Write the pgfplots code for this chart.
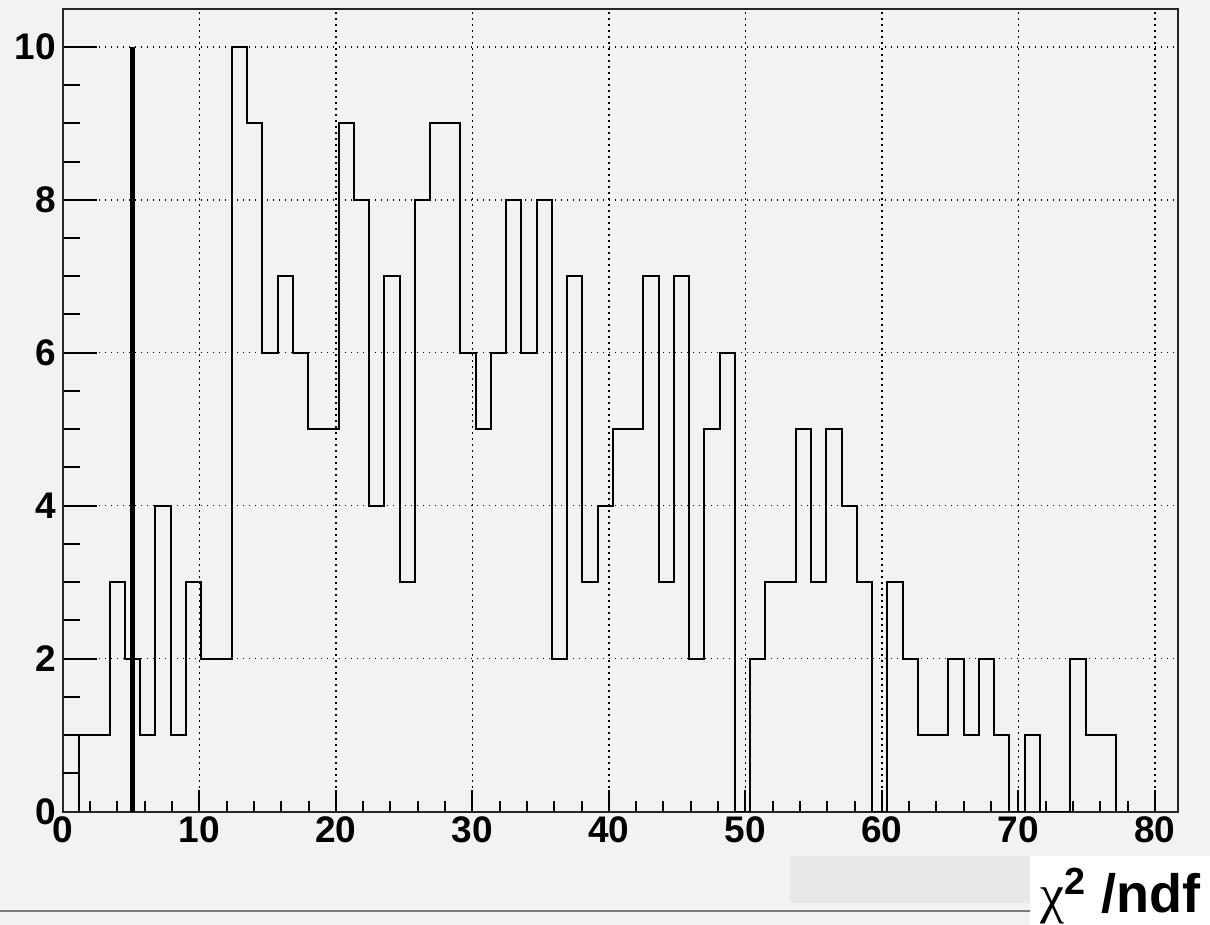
\documentclass[border=0pt]{standalone}
\usepackage{pgfplots}
\pgfplotsset{compat=1.18}
\usepackage{fontspec}
\setmainfont{Liberation Sans}
\newfontfamily\greekfont{Liberation Serif}

\definecolor{canvas}{HTML}{F2F2F2}
\definecolor{statbox}{HTML}{E8E8E8}
\definecolor{rulegray}{HTML}{7A7A7A}

\begin{document}
\begin{tikzpicture}
% canvas: 605pt x 462.5pt
\fill[canvas] (0,0) rectangle (605pt,462.5pt);
\fill[statbox] (395pt,10.85pt) rectangle (515pt,34.65pt);
\fill[white] (515pt,0pt) rectangle (605pt,34.65pt);
\draw[rulegray, line width=1pt] (0,7pt) -- (515pt,7pt);

\begin{axis}[
  at={(31.4pt,56.65pt)}, anchor=south west,
  scale only axis, width=557.6pt, height=401.2pt,
  xmin=0, xmax=81.7, ymin=0, ymax=10.49,
  axis line style={black!85, line width=1pt},
  axis background/.style={fill=canvas},
  xtick={0,10,...,80}, ytick={0,2,...,10},
  minor x tick num=4, minor y tick num=3,
  tick align=inside,
  x tick style={black, line width=1pt, /pgfplots/major tick length=11pt, /pgfplots/minor tick length=5.5pt},
  y tick style={black, line width=1pt, /pgfplots/major tick length=17pt, /pgfplots/minor tick length=8.5pt},
  xtick pos=bottom, ytick pos=left,
  grid=major,
  major grid style={black, line width=0.75pt, dash pattern=on 0.75pt off 2.25pt},
  tick label style={font=\fontsize{18.5}{20}\selectfont\bfseries},
  xticklabel style={yshift=1pt},
  /pgf/number format/assume math mode=true,
  clip=true,
]
% histogram: left bin edge, content
\addplot[const plot, black, line width=1pt] coordinates {
  (1.21,0)
  (1.21,1) (2.33,1) (3.44,3) (4.56,2) (5.68,1) (6.79,4) (7.91,1) (9.03,3)
  (10.15,2) (11.26,2) (12.38,10) (13.50,9) (14.61,6) (15.73,7) (16.85,6) (17.96,5)
  (19.08,5) (20.20,9) (21.31,8) (22.43,4) (23.55,7) (24.67,3) (25.78,8) (26.90,9)
  (28.02,9) (29.13,6) (30.25,5) (31.37,6) (32.48,8) (33.60,6) (34.72,8) (35.83,2)
  (36.95,7) (38.07,3) (39.19,4) (40.30,5) (41.42,5) (42.54,7) (43.65,3) (44.77,7)
  (45.89,2) (47.00,5) (48.12,6) (49.24,0) (50.35,2) (51.47,3) (52.59,3) (53.71,5)
  (54.82,3) (55.94,5) (57.06,4) (58.17,3) (59.29,0) (60.41,3) (61.52,2) (62.64,1)
  (63.76,1) (64.87,2) (65.99,1) (67.11,2) (68.23,1) (69.34,0) (70.46,1) (71.58,0)
  (72.69,0) (73.81,2) (74.93,1) (76.04,1)
  (77.16,0)
};
% underflow segment
\addplot[black, line width=1pt] coordinates {(0,0.5) (1.21,0.5)};
% cut line
\addplot[black, line width=2.5pt] coordinates {(5.12,0) (5.12,10)};
\end{axis}

\node[anchor=base west, inner sep=0pt, font=\fontsize{27}{30}\selectfont\bfseries]
  at (520pt,6pt) {{\greekfont\mdseries χ}\textsuperscript{2} /ndf};

\pgfresetboundingbox
\path (0,0) rectangle (605pt,462.5pt);
\end{tikzpicture}
\end{document}
